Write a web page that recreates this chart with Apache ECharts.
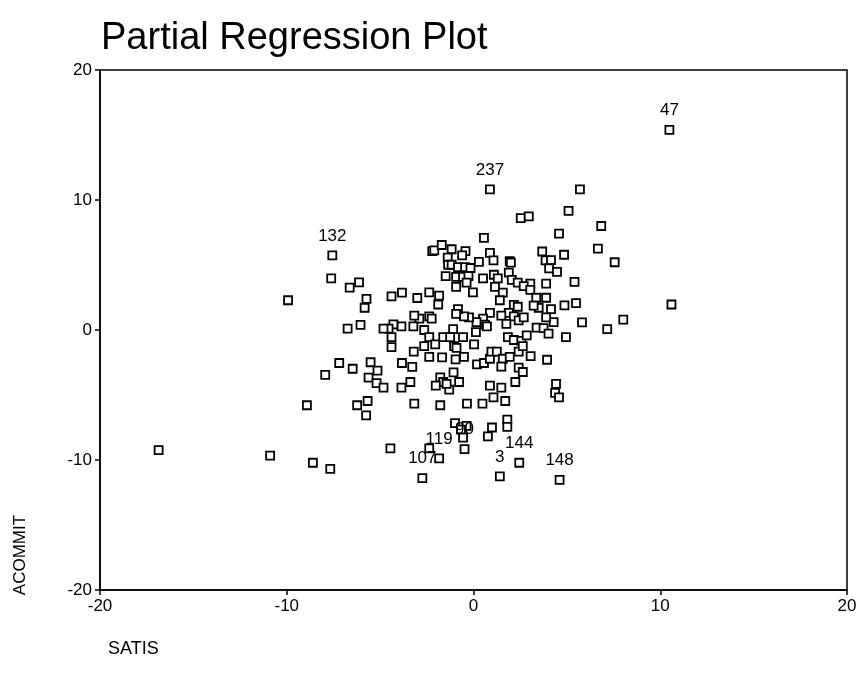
<!DOCTYPE html>
<html>
<head>
<meta charset="utf-8">
<script src="https://cdn.jsdelivr.net/npm/echarts@6/dist/echarts.min.js"></script>
<style>
html,body{margin:0;padding:0;background:#fff;}
#chart{width:862px;height:696px;}
</style>
</head>
<body>
<div id="chart"></div>
<script>
// SATIS (x) partial residuals
var satis = [10.49,0.88,5.70,5.09,2.53,2.96,6.84,4.58,0.56,6.66,7.56,-7.56,-7.62,-6.63,-6.13,-9.93,-5.73,-5.83,10.60,8.02,
7.16,5.81,4.95,5.49,4.87,5.41,4.85,3.68,3.86,4.15,4.05,4.47,3.89,3.04,1.94,2.00,-2.21,-2.10,-1.70,-1.17,
-0.43,-0.61,-1.38,-1.36,-1.17,-0.83,-0.45,-0.16,0.29,0.88,1.07,-1.49,-0.93,-0.56,-0.27,0.51,1.09,1.30,1.89,2.05,
2.37,2.69,3.04,-0.93,-0.37,-0.03,1.15,1.57,-2.37,-1.84,-3.01,-3.83,-4.39,3.36,3.89,4.15,3.49,3.22,2.16,2.37,
1.41,1.89,1.49,2.16,2.42,2.69,1.76,0.88,0.51,0.61,0.16,-0.24,-0.51,-0.83,-0.93,-2.37,-2.24,-2.90,-3.17,-1.89,
-2.64,-3.22,-3.86,-4.29,-4.55,-4.82,-4.39,-4.39,-6.05,-6.74,-2.37,-1.62,-1.09,-1.25,-0.56,0.13,0.72,1.84,2.16,2.56,
2.85,3.38,3.75,4.02,4.29,3.89,-2.64,-2.05,-1.04,-0.91,0.03,-0.51,-0.96,-1.68,-2.37,-3.20,-3.28,-3.83,0.19,0.56,
0.88,0.96,1.25,1.57,1.94,1.49,2.42,2.64,3.06,3.94,2.42,2.64,2.24,0.88,1.49,1.07,1.70,0.48,-0.35,-1.07,
-1.78,-1.62,-2.02,-1.30,-0.77,-1.44,-3.38,-3.86,-3.17,-1.78,-5.51,-5.14,-5.62,-5.19,-4.82,-7.19,-6.47,-7.94,-8.92,-6.23,
-5.67,-5.75,4.42,4.37,4.58,1.81,1.81,0.99,0.77,-0.99,-0.37,-0.67,-0.56,-0.48,-1.84,-2.37,-2.74,-4.45,-7.67,-8.60,
-10.89,-16.86,2.45,1.41,4.61];
// ACOMMIT (y) partial residuals
var acommit = [15.39,10.81,10.81,9.16,8.61,8.74,8.00,7.42,7.09,6.26,5.21,5.74,3.97,3.26,3.67,2.29,2.40,1.71,1.96,0.80,
0.06,0.58,-0.55,2.07,1.90,3.70,5.79,6.04,5.35,5.38,4.74,4.47,3.56,3.56,5.30,5.19,6.07,6.12,6.54,6.21,
6.07,5.74,5.57,5.02,5.02,4.83,4.83,4.77,5.24,5.93,5.35,4.14,4.08,4.08,4.14,3.97,4.25,3.97,4.41,3.86,
3.64,3.37,3.09,3.31,3.64,2.90,3.31,2.87,2.90,2.65,2.46,2.87,2.59,2.48,2.48,1.60,1.71,1.88,1.93,1.79,
2.29,1.32,1.10,1.05,0.74,0.97,0.47,1.32,0.88,0.41,0.61,0.97,1.05,1.60,1.24,1.05,0.88,0.88,1.10,1.96,
0.00,0.28,0.28,0.44,0.11,0.11,-0.55,-1.32,0.39,0.11,-0.55,-0.55,0.06,-0.55,-0.55,-0.17,0.28,-0.55,-0.77,-0.83,
-0.41,0.19,0.14,-0.28,0.61,0.97,-1.24,-1.10,-1.24,-1.38,-1.10,-2.07,-2.26,-2.10,-2.07,-1.66,-2.84,-2.54,-2.65,-2.54,
-2.21,-1.66,-1.66,-2.21,-2.07,-2.81,-1.66,-1.24,-2.01,-2.29,-2.90,-3.23,-4.00,-4.28,-4.44,-5.19,-5.46,-5.66,-5.66,-3.26,
-3.64,-4.00,-4.28,-4.58,-4.00,-4.14,-4.00,-4.44,-5.66,-5.79,-2.48,-3.12,-3.67,-4.08,-4.44,-2.54,-2.98,-3.45,-5.79,-5.79,
-5.46,-6.57,-4.14,-4.83,-5.19,-6.90,-7.45,-7.50,-8.19,-7.17,-7.37,-7.67,-8.28,-9.16,-9.88,-9.10,-11.39,-9.10,-10.68,-10.21,
-9.66,-9.24,-10.21,-11.26,-11.53];
// case labels shown on the plot
var labelIndex = [0, 1, 11, 204, 202, 203, 196, 194, 193];
var labelText = ['47', '237', '132', '148', '144', '3', '107', '119', '90'];
var xTicks = [-20, -10, 0, 10, 20];
var yTicks = [-20, -10, 0, 10, 20];

var FONT = '"Liberation Sans", Arial, sans-serif';
var points = satis.map(function (x, i) {
  var item = { value: [x, acommit[i]] };
  var k = labelIndex.indexOf(i);
  if (k >= 0) {
    item.label = { show: true, formatter: labelText[k] };
  }
  return item;
});

var chart = echarts.init(document.getElementById('chart'), null, { renderer: 'canvas' });
chart.setOption({
  animation: false,
  backgroundColor: '#ffffff',
  title: {
    text: 'Partial Regression Plot',
    left: 96, top: 15,
    textStyle: { fontFamily: FONT, fontSize: 38, fontWeight: 'normal', color: '#000' }
  },
  grid: {
    left: 100, right: 15, top: 70, bottom: 106,
    show: true, borderColor: '#000', borderWidth: 1.5, backgroundColor: 'transparent'
  },
  xAxis: {
    type: 'value', min: xTicks[0], max: xTicks[xTicks.length - 1], interval: 10,
    axisLine: { show: true, onZero: false, lineStyle: { color: '#000', width: 1.5 } },
    axisTick: { show: true, inside: false, length: 5, lineStyle: { color: '#000', width: 1.5 } },
    axisLabel: { fontFamily: FONT, fontSize: 17, color: '#000', margin: 8 },
    splitLine: { show: false }
  },
  yAxis: {
    type: 'value', min: yTicks[0], max: yTicks[yTicks.length - 1], interval: 10,
    axisLine: { show: true, onZero: false, lineStyle: { color: '#000', width: 1.5 } },
    axisTick: { show: true, inside: false, length: 5, lineStyle: { color: '#000', width: 1.5 } },
    axisLabel: { fontFamily: FONT, fontSize: 17, color: '#000', margin: 8 },
    splitLine: { show: false }
  },
  graphic: [
    {
      type: 'text', left: 108, top: 640,
      style: { text: 'SATIS', font: '18px ' + FONT, fill: '#000' }
    },
    {
      type: 'text', x: 20, y: 555, rotation: Math.PI / 2,
      style: { text: 'ACOMMIT', font: '17px ' + FONT, fill: '#000', align: 'center', verticalAlign: 'middle' }
    }
  ],
  series: [{
    type: 'scatter',
    symbol: 'rect',
    symbolSize: 8,
    itemStyle: { color: '#ffffff', borderColor: '#000', borderWidth: 1.8, opacity: 1 },
    label: {
      show: false, position: 'top', distance: 6,
      fontFamily: FONT, fontSize: 17, color: '#000'
    },
    data: points
  }]
});
</script>
</body>
</html>
